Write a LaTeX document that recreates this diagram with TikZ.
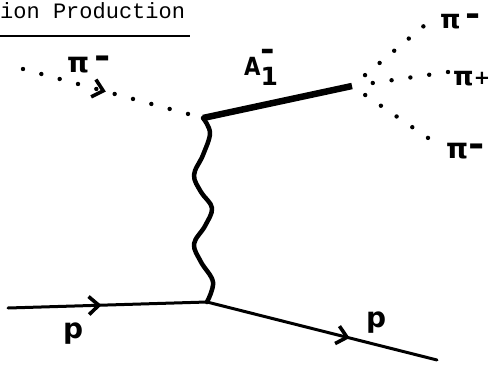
\documentclass[tikz,border=0pt]{standalone}
\usepackage{fontspec}
\setmainfont{DejaVu Sans}
\newfontfamily\titlefont{Liberation Mono}
\usetikzlibrary{decorations.markings,arrows.meta}
\newcommand\thickminus{\scalebox{1.4}[1.25]{-}}
\begin{document}
\begin{tikzpicture}[x=1pt,y=-1pt,
  fermion/.style={line width=3pt, line cap=round},
  pionline/.style={line width=4.4pt, line cap=round, dash pattern=on 0pt off 19pt},
  photon/.style={line width=4.5pt, line cap=round, line join=round},
  heavy/.style={line width=6.5pt},
  lab/.style={inner sep=0pt, anchor=base west, font=\fontsize{28}{28}\selectfont\bfseries},
  chev/.style={postaction={solid, decorate, decoration={markings,
    mark=at position #1 with {\arrow{Straight Barb[length=10pt,width=18pt,line width=3.6pt]}}}}}
]
\useasboundingbox (0,0) rectangle (489,364);
% title
\node[anchor=base west, inner sep=0pt, font=\titlefont\fontsize{22}{22}\selectfont] (title) at (0,18) {ion Production};
\coordinate (ul1) at (0,36);
\coordinate (ul2) at (190,36);
\draw[line width=2.2pt] (ul1) -- (ul2);
% vertices
\coordinate (pin) at (23,69);
\coordinate (v1) at (203,118);
\coordinate (a1end) at (352,86);
\coordinate (v2) at (207,302);
\coordinate (pstart) at (8,308);
\coordinate (pend) at (437,360);
\coordinate (o1) at (431,20);
\coordinate (o2) at (448,72);
\coordinate (o3) at (434,142);
% incoming pion
\draw[pionline, chev=0.46] (pin) -- (v1);
% A1
\draw[heavy] (v1) -- (a1end);
% outgoing pions
\draw[pionline, shorten <=17pt] (a1end) -- (o1);
\draw[pionline, shorten <=21pt] (a1end) -- (o2);
\draw[pionline, shorten <=16pt] (a1end) -- (o3);
% exchanged photon
\draw[photon] plot[smooth, tension=0.6] coordinates {(v1) (210,133) (203,155) (194,175) (201,192) (212,208) (205,226) (194,244) (201,262) (213,282) (v2)};
% protons
\draw[fermion, chev=0.47] (pstart) -- (v2);
\draw[fermion, chev=0.62] (v2) -- (pend);
% labels
\node[lab] (lpiin) at (67,72) {π\,\raisebox{4pt}{\thickminus}};
\node[lab, font=\fontsize{25}{25}\selectfont\bfseries] (la1) at (244,75)
  {\scalebox{0.85}[1]{A}\rlap{\raisebox{-10pt}{1}}\raisebox{15pt}{\thickminus}};
\node[lab, font=\fontsize{26}{26}\selectfont\bfseries] (lpi1) at (440,28) {π\thinspace\raisebox{3pt}{\thickminus}};
\node[lab, font=\fontsize{26}{26}\selectfont\bfseries] (lpi2) at (453,85) {π\raisebox{1pt}{\scalebox{0.75}{+}}};
\node[lab] (lpi3) at (446,158) {π\raisebox{2pt}{\thickminus}};
\node[lab] (lp1) at (63,338) {p};
\node[lab] (lp2) at (366,327) {p};
\end{tikzpicture}
\end{document}
